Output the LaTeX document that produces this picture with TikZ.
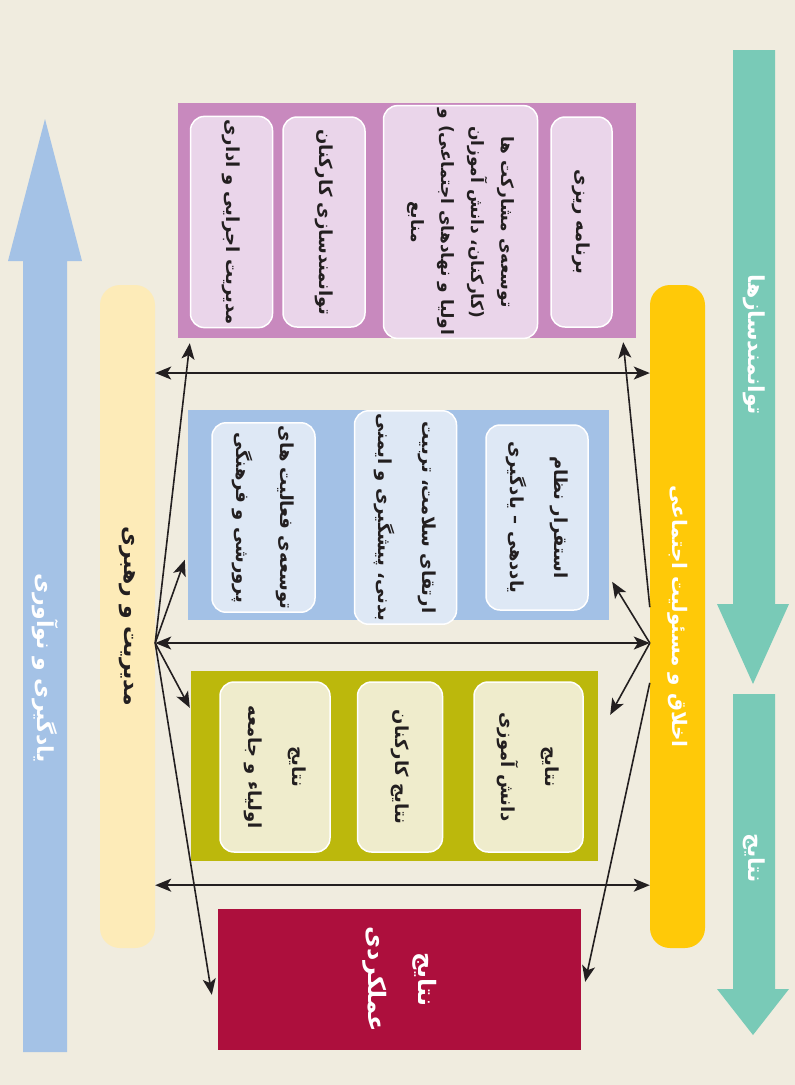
\documentclass[tikz,border=0pt]{standalone}
\usepackage{fontspec}
\usepackage{tikz}
\usetikzlibrary{positioning, arrows.meta, calc}
\newfontfamily\fa[Script=Arabic]{DejaVu Sans}
\TeXXeTstate=1
\newcommand{\rl}[1]{\beginR#1\endR}
\definecolor{paper}{HTML}{F0ECDF}
\definecolor{ink}{HTML}{231F20}
\definecolor{learn}{HTML}{A4C2E6}
\definecolor{enable}{HTML}{79CAB7}
\definecolor{leadc}{HTML}{FDEBB8}
\definecolor{ethicc}{HTML}{FFC908}
\definecolor{purc}{HTML}{C889BE}
\definecolor{purl}{HTML}{EAD5EA}
\definecolor{bluc}{HTML}{A3C1E6}
\definecolor{blul}{HTML}{DEE8F5}
\definecolor{olvc}{HTML}{BCB80C}
\definecolor{olvl}{HTML}{EFECCC}
\definecolor{resc}{HTML}{AD0F3D}
\tikzset{
>={Stealth[length=16pt, width=13pt, inset=4pt]}, % arrow heads
link/.style={draw=ink, line width=1.6pt}, % black connectors
panel/.style={inner sep=0pt, draw=none}, % the four coloured blocks
card/.style={rounded corners=14pt, draw=white, line width=1.5pt, align=center, inner sep=3pt, text=ink, font=\fa\bfseries\fontsize{18}{44}\selectfont}, % light boxes inside a block
bar/.style={rounded corners=20pt, minimum width=663pt, minimum height=55pt, inner sep=0pt, font=\fa\bfseries\fontsize{20}{24}\selectfont}, % the two long bars
tag/.style={text=white, font=\fa\bfseries\fontsize{22}{26}\selectfont}, % text on the big arrows
}
\begin{document}
\begin{tikzpicture}[x=1pt, y=1pt]
\begin{scope}[rotate=-90, transform shape]
\fill[paper] (0,0) rectangle (1085,795);
\useasboundingbox (0,0) rectangle (1085,795);

% big arrows
\fill[learn] (1052,23) -- (261,23) -- (261,8) -- (119,45) -- (261,82) -- (261,67) -- (1052,67) -- cycle;
\fill[enable] (50,733) -- (604,733) -- (604,717) -- (684,753) -- (604,789) -- (604,775) -- (50,775) -- cycle;
\fill[enable] (694,733) -- (989,733) -- (989,717) -- (1035,753) -- (989,789) -- (989,775) -- (694,775) -- cycle;
\node[tag] (learnt) at (668,45) {\rl{یادگیری و نوآوری}};
\node[tag] (enab) at (345,754) {\rl{توانمندسازها}};
\node[tag] (resu) at (858,754) {\rl{نتایج}};

% bars
\node[bar, fill=leadc, text=ink, font=\fa\bfseries\fontsize{22}{26}\selectfont] (lead) at (616.5,127.5) {\rl{مدیریت و رهبری}};
\node[bar, fill=ethicc, text=white] (ethic) at (616.5,677.5) {\rl{اخلاق و مسئولیت اجتماعی}};

% enablers
\node[panel, fill=purc, minimum width=235pt, minimum height=458pt] (pur) at (220.5,407) {};
\node[card, fill=purl, minimum width=210pt, minimum height=61pt] (p1) at (222,581.5) {\rl{برنامه ریزی}};
\node[card, fill=purl, minimum width=210pt, minimum height=154pt, font=\fa\bfseries\fontsize{17}{30}\selectfont, below=12pt of p1] (p2)
  {\rl{توسعه‌ی مشارکت ها}\\\rl{(کارکنان، دانش آموزان}\\\rl{اولیا و نهادهای اجتماعی) و}\\\rl{منابع}};
\node[card, fill=purl, minimum width=210pt, minimum height=82pt, below=17pt of p2] (p3) {\rl{توانمندسازی کارکنان}};
\node[card, fill=purl, minimum width=210pt, minimum height=82pt, below=9pt of p3] (p4) {\rl{مدیریت اجرایی و اداری}};

\node[panel, fill=bluc, minimum width=210pt, minimum height=421pt] (blu) at (515,398.5) {};
\node[card, fill=blul, minimum width=185pt, minimum height=102pt] (b1) at (517.5,537) {\rl{استقرار نظام}\\\rl{یاددهی – یادگیری}};
\node[card, fill=blul, minimum width=185pt, minimum height=102pt, below=28pt of b1] (b2) {\rl{ارتقای سلامت، تربیت}\\\rl{بدنی، پیشگیری و ایمنی}};
\node[card, fill=blul, minimum width=185pt, minimum height=103pt, below=38pt of b2] (b3) {\rl{توسعه‌ی فعالیت های}\\\rl{پرورشی و فرهنگی}};

% results
\node[panel, fill=olvc, minimum width=190pt, minimum height=407pt] (olv) at (766,394.5) {};
\node[card, fill=olvl, minimum width=170pt, minimum height=109pt] (o1) at (767,528.5) {\rl{نتایج}\\\rl{دانش آموزی}};
\node[card, fill=olvl, minimum width=170pt, minimum height=85pt, below=30pt of o1] (o2) {\rl{نتایج کارکنان}};
\node[card, fill=olvl, minimum width=170pt, minimum height=110pt, below=26pt of o2] (o3) {\rl{نتایج}\\\rl{اولیاء و جامعه}};

\node[panel, fill=resc, minimum width=141pt, minimum height=363pt, align=center, text=white,
  font=\fa\bfseries\fontsize{24}{50}\selectfont] (res) at (979.5,399.5) {\rl{نتایج}\\\rl{عملکردی}};

% connectors
\coordinate (fanL) at ($(lead.north west)!0.54!(lead.north east)$);
\coordinate (fanR) at ($(ethic.south west)!0.54!(ethic.south east)$);
\draw[link, <->] ($(lead.north west)!0.133!(lead.north east)$) -- ($(ethic.south west)!0.133!(ethic.south east)$);
\draw[link, <->] (fanL) -- (fanR);
\draw[link, <->] ($(lead.north west)!0.905!(lead.north east)$) -- ($(ethic.south west)!0.905!(ethic.south east)$);
\draw[link, ->] (fanL) -- ($(pur.south east)+(5,12)$);
\draw[link, ->] (fanL) -- ($(blu.south west)+(150,-3)$);
\draw[link, ->] (fanL) -- ($(olv.south west)+(37,-1)$);
\draw[link, ->] (fanL) -- ($(res.south west)+(86,-6)$);
\draw[link, ->] ($(ethic.south west)!0.486!(ethic.south east)$) -- ($(pur.north east)+(4,-13)$);
\draw[link, ->] (fanR) -- ($(blu.north west)+(172,3)$);
\draw[link, ->] (fanR) -- ($(olv.north west)+(44,12)$);
\draw[link, ->] ($(ethic.south west)!0.6!(ethic.south east)$) -- ($(res.north west)+(73,4)$);
\end{scope}
\end{tikzpicture}
\end{document}
